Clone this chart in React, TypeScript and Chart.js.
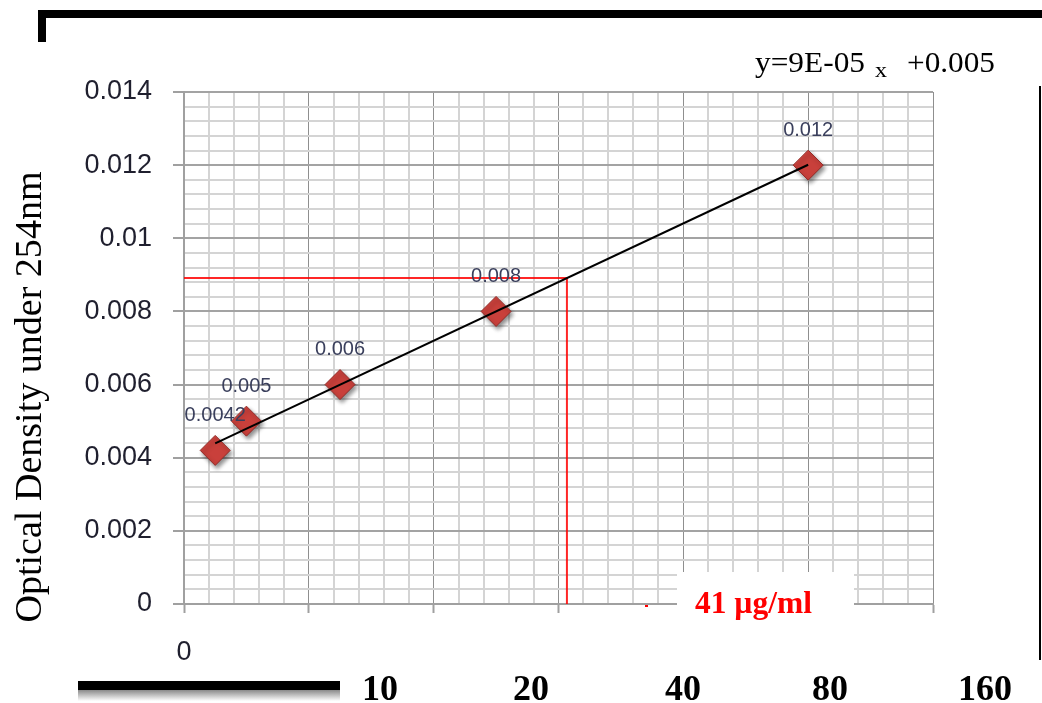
import { useEffect, useRef } from 'react';
import { Chart, registerables } from 'chart.js';

Chart.register(...registerables);

// ---- Data ----
const concentrations = [10, 20, 50, 100, 200];
const absorbance = [0.0042, 0.005, 0.006, 0.008, 0.012];
const pointLabels = ['0.0042', '0.005', '0.006', '0.008', '0.012'];
const yTickLabels = ['0', '0.002', '0.004', '0.006', '0.008', '0.01', '0.012', '0.014'];
const xTickLabels = ['0'];
const footerLabels = ['10', '20', '40', '80', '160'];
const readX = 122.7; // x where the red guide meets the trend line
const equationParts = ['y=9E-05', 'x', '+0.005'];
const resultLabel = '41 µg/ml';
const yTitle = 'Optical Density under 254nm';

const Y_MAX = 0.014;
const Y_MAJOR = 0.002;
const Y_MINOR = 0.0004;
const X_MAX = 240;
const X_MAJOR = 40;
const X_MINOR = 8;

function regression(xs: number[], ys: number[]) {
  const n = xs.length;
  const mx = xs.reduce((a, b) => a + b, 0) / n;
  const my = ys.reduce((a, b) => a + b, 0) / n;
  let sxx = 0;
  let sxy = 0;
  for (let i = 0; i < n; i++) {
    sxx += (xs[i] - mx) * (xs[i] - mx);
    sxy += (xs[i] - mx) * (ys[i] - my);
  }
  const slope = sxy / sxx;
  return { slope, intercept: my - slope * mx };
}

const isMajor = (v: number, step: number) => Math.abs(v / step - Math.round(v / step)) < 1e-6;

const SERIF = '"Liberation Serif", "Times New Roman", serif';
const SANS = '"Liberation Sans", Arial, sans-serif';

function fitText(ctx: CanvasRenderingContext2D, text: string, x: number, y: number, width: number, align: 'left' | 'center') {
  const w = ctx.measureText(text).width;
  const s = width / w;
  ctx.save();
  ctx.translate(x, y);
  ctx.scale(s, 1);
  ctx.textAlign = align;
  ctx.fillText(text, 0, 0);
  ctx.restore();
}

const shadowPlugin = {
  id: 'markerShadow',
  beforeDatasetDraw(chart: any, args: any) {
    if (args.index !== 1) return;
    const ctx = chart.ctx;
    ctx.save();
    ctx.shadowColor = 'rgba(0,0,0,0.45)';
    ctx.shadowBlur = 4;
    ctx.shadowOffsetX = 2;
    ctx.shadowOffsetY = 3;
  },
  afterDatasetDraw(chart: any, args: any) {
    if (args.index !== 1) return;
    chart.ctx.restore();
  },
};

const labelPlugin = {
  id: 'pointLabels',
  afterDatasetsDraw(chart: any) {
    const ctx = chart.ctx;
    const meta = chart.getDatasetMeta(1);
    ctx.save();
    ctx.font = `20px ${SANS}`;
    ctx.fillStyle = '#3a3f5c';
    ctx.textAlign = 'center';
    ctx.textBaseline = 'middle';
    meta.data.forEach((pt: any, i: number) => {
      ctx.fillText(pointLabels[i], pt.x, pt.y - 35);
    });
    ctx.restore();
  },
};

const decorPlugin = {
  id: 'decor',
  afterDraw(chart: any) {
    const ctx = chart.ctx as CanvasRenderingContext2D;
    ctx.save();
    // frame pieces
    ctx.fillStyle = '#000';
    ctx.fillRect(38, 10, 1004, 8);
    ctx.fillRect(38, 10, 8, 32);
    ctx.fillRect(1039, 86, 2, 574);
    // bottom bar with fading shadow
    ctx.fillRect(78, 681, 262, 9);
    const g = ctx.createLinearGradient(0, 690, 0, 701);
    g.addColorStop(0, '#8a8a8a');
    g.addColorStop(1, '#ffffff');
    ctx.fillStyle = g;
    ctx.fillRect(78, 690, 262, 11);

    // white box with result
    ctx.fillStyle = '#ffffff';
    ctx.fillRect(677, 572, 177, 58);
    ctx.fillStyle = '#ff0000';
    ctx.fillRect(645, 605, 3, 2);
    ctx.font = `bold 32px ${SERIF}`;
    ctx.textBaseline = 'alphabetic';
    fitText(ctx, resultLabel, 695, 613, 117, 'left');

    // equation
    ctx.fillStyle = '#000';
    ctx.font = `30px ${SERIF}`;
    fitText(ctx, equationParts[0], 755, 72, 110, 'left');
    ctx.font = `22px ${SERIF}`;
    fitText(ctx, equationParts[1], 875, 77, 12, 'left');
    ctx.font = `30px ${SERIF}`;
    fitText(ctx, equationParts[2], 907, 72, 88, 'left');

    // y axis title
    ctx.save();
    ctx.translate(41, 397);
    ctx.rotate(-Math.PI / 2);
    ctx.font = `38px ${SERIF}`;
    fitText(ctx, yTitle, 0, 0, 451, 'center');
    ctx.restore();

    // bold footer labels
    ctx.font = `bold 36px ${SERIF}`;
    const centers = [380, 531, 683, 830, 985];
    footerLabels.forEach((t, i) => {
      ctx.textAlign = 'center';
      ctx.fillText(t, centers[i], 700);
    });
    ctx.restore();
  },
};

export default function App() {
  const ref = useRef<HTMLCanvasElement | null>(null);

  useEffect(() => {
    document.body.style.margin = '0';
    const canvas = ref.current;
    if (!canvas) return;
    const { slope, intercept } = regression(concentrations, absorbance);
    const f = (x: number) => intercept + slope * x;
    const x0 = concentrations[0];
    const x1 = concentrations[concentrations.length - 1];

    const chart = new Chart(canvas, {
      type: 'scatter',
      data: {
        datasets: [
          {
            label: 'trend',
            data: [
              { x: x0, y: f(x0) },
              { x: x1, y: f(x1) },
            ],
            showLine: true,
            borderColor: '#000000',
            borderWidth: 2,
            pointRadius: 0,
          },
          {
            label: 'OD',
            data: concentrations.map((c, i) => ({ x: c, y: absorbance[i] })),
            pointStyle: 'rectRot',
            pointRadius: 15,
            backgroundColor: '#c9403b',
            borderColor: '#932c28',
            borderWidth: 1,
          },
          {
            label: 'guide',
            data: [
              { x: 0, y: f(readX) },
              { x: readX, y: f(readX) },
              { x: readX, y: 0 },
            ],
            showLine: true,
            borderColor: 'rgba(255,0,0,0.85)',
            borderWidth: 2,
            pointRadius: 0,
            tension: 0,
          },
        ],
      },
      options: {
        animation: false,
        responsive: false,
        devicePixelRatio: 1,
        layout: { padding: { top: 92, right: 109, left: 0, bottom: 0 } },
        plugins: { legend: { display: false }, tooltip: { enabled: false } },
        scales: {
          x: {
            type: 'linear',
            min: 0,
            max: X_MAX,
            afterFit: (s: any) => {
              s.height = 99;
            },
            border: { color: '#a0a0a0', width: 2 },
            grid: {
              color: (c: any) => (isMajor(c.tick.value, X_MAJOR) ? '#8f8f8f' : '#d4d4d4'),
              lineWidth: (c: any) => (isMajor(c.tick.value, X_MAJOR) ? 1 : 2),
              tickColor: (c: any) => (isMajor(c.tick.value, X_MAJOR) ? '#a0a0a0' : 'rgba(0,0,0,0)'),
              tickLength: 9,
              tickWidth: 2,
            },
            ticks: {
              stepSize: X_MINOR,
              maxTicksLimit: 1000,
              autoSkip: false,
              maxRotation: 0,
              minRotation: 0,
              padding: 23,
              color: '#1f1f2e',
              font: { family: SANS, size: 27 },
              callback: (v: any) => (Number(v) === 0 ? xTickLabels[0] : ''),
            },
          },
          y: {
            type: 'linear',
            min: 0,
            max: Y_MAX,
            afterFit: (s: any) => {
              s.width = 184;
            },
            border: { color: '#a0a0a0', width: 2 },
            grid: {
              color: (c: any) => (isMajor(c.tick.value, Y_MAJOR) ? '#a3a3a3' : '#d4d4d4'),
              lineWidth: 2,
              tickColor: (c: any) => (isMajor(c.tick.value, Y_MAJOR) ? '#a0a0a0' : 'rgba(0,0,0,0)'),
              tickLength: 11,
              tickWidth: 2,
            },
            ticks: {
              stepSize: Y_MINOR,
              maxTicksLimit: 1000,
              autoSkip: false,
              padding: 21,
              color: '#1f1f2e',
              font: { family: SANS, size: 27 },
              callback: (v: any) => {
                const val = Number(v);
                if (!isMajor(val, Y_MAJOR)) return '';
                return yTickLabels[Math.round(val / Y_MAJOR)];
              },
            },
          },
        },
      },
      plugins: [shadowPlugin, labelPlugin, decorPlugin],
    } as any);

    return () => chart.destroy();
  }, []);

  return (
    <div style={{ position: 'relative', width: 1042, height: 703, background: '#fff' }}>
      <canvas ref={ref} width={1042} height={703} style={{ width: 1042, height: 703, display: 'block' }} />
    </div>
  );
}
